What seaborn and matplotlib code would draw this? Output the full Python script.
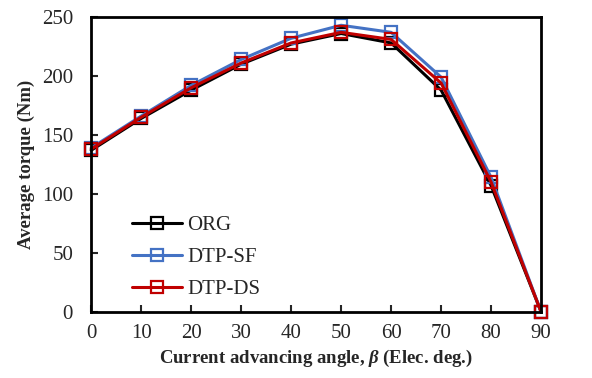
import numpy as np
import pandas as pd
import matplotlib
matplotlib.use("Agg")
import matplotlib.pyplot as plt
import seaborn as sns

angles = [0, 10, 20, 30, 40, 50, 60, 70, 80, 90]
org = [137, 164, 188, 210, 227, 236, 228, 188, 107, 0]
dtp_sf = [139, 166, 192, 214, 232, 243, 237, 199, 114, 0]
dtp_ds = [138, 165, 190, 211, 228, 237, 231, 194, 110, 0]
series_names = ["ORG", "DTP-SF", "DTP-DS"]
colors = ["#000000", "#4472C4", "#C00000"]

df = pd.DataFrame({
    "angle": angles * 3,
    "torque": org + dtp_sf + dtp_ds,
    "series": sum([[n] * len(angles) for n in series_names], []),
})

sns.set_style("ticks")
plt.rcParams["font.family"] = ["Liberation Serif", "DejaVu Serif"]
plt.rcParams["mathtext.fontset"] = "custom"
plt.rcParams["mathtext.bfit"] = "Liberation Serif:bold:italic"

fig = plt.figure(figsize=(5.92, 3.78), dpi=100)
ax = fig.add_axes([0.154, 0.175, 0.760, 0.780])

sns.lineplot(data=df, x="angle", y="torque", hue="series", hue_order=series_names,
             palette=colors, marker="s", markersize=9, markerfacecolor="none",
             markeredgewidth=1.6, linewidth=2.2, ax=ax)
for line, c in zip(ax.get_lines(), colors):
    line.set_markeredgecolor(c)
    line.set_markerfacecolor("none")
    line.set_clip_on(False)

ax.set_xlim(0, 90)
ax.set_ylim(0, 250)
ax.set_xticks(angles)
ax.set_yticks([0, 50, 100, 150, 200, 250])
ax.tick_params(direction="in", length=5, width=1.5, labelsize=15)
ax.tick_params(axis="x", pad=9)
ax.tick_params(axis="y", pad=13)
for s in ax.spines.values():
    s.set_linewidth(2)
    s.set_color("black")

ax.set_xlabel(r"Current advancing angle, $\boldsymbol{\beta}$ (Elec. deg.)",
              fontsize=13.5, fontweight="bold", labelpad=3)
ax.set_ylabel("Average torque (Nm)", fontsize=13.5, fontweight="bold", labelpad=5)

leg = ax.legend(loc="lower left", bbox_to_anchor=(0.05, -0.02), frameon=False,
                fontsize=15, handlelength=2.4, labelspacing=0.6, handletextpad=0.25)
for h, c in zip(leg.legend_handles, colors):
    h.set_markerfacecolor("none")
    h.set_markeredgecolor(c)

fig.savefig("out.png", dpi=100)
